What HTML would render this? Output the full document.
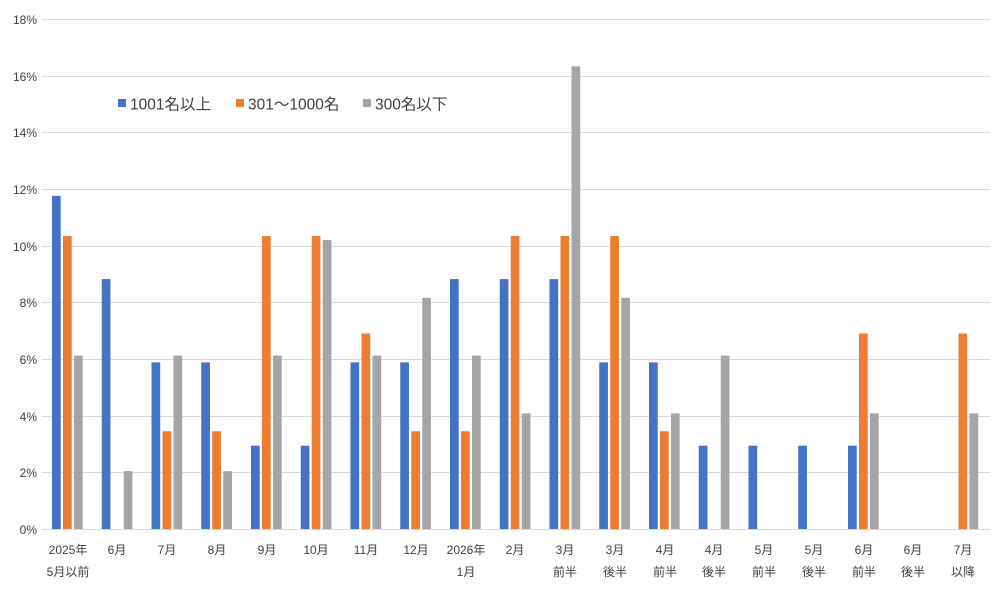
<!DOCTYPE html>
<html><head><meta charset="utf-8"><style>
html,body{margin:0;padding:0;background:#fff;}
svg{display:block;font-family:"Liberation Sans","Noto Sans CJK JP",sans-serif;}
</style></head><body>
<svg id="c" width="1000" height="611" viewBox="0 0 1000 611">
<g stroke="#d9d9d9" stroke-width="1">
<line x1="42" x2="990" y1="19.5" y2="19.5"/><line x1="42" x2="990" y1="76.5" y2="76.5"/>
<line x1="42" x2="990" y1="132.5" y2="132.5"/><line x1="42" x2="990" y1="189.5" y2="189.5"/>
<line x1="42" x2="990" y1="246.5" y2="246.5"/><line x1="42" x2="990" y1="302.5" y2="302.5"/>
<line x1="42" x2="990" y1="359.5" y2="359.5"/><line x1="42" x2="990" y1="416.5" y2="416.5"/>
<line x1="42" x2="990" y1="472.5" y2="472.5"/><line x1="42" x2="990" y1="529.5" y2="529.5"/>
</g>
<g font-size="12" fill="#404040" text-anchor="end">
<text x="37" y="24">18%</text><text x="37" y="81">16%</text><text x="37" y="137">14%</text>
<text x="37" y="194">12%</text><text x="37" y="251">10%</text><text x="37" y="307">8%</text>
<text x="37" y="364">6%</text><text x="37" y="421">4%</text><text x="37" y="477">2%</text>
<text x="37" y="534">0%</text>
</g>
<g id="bars"></g>
<g font-size="12" fill="#404040" text-anchor="middle">
<text x="68" y="554">2025年</text><text x="68" y="576">5月以前</text>
<text x="117" y="554">6月</text>
<text x="167" y="554">7月</text>
<text x="217" y="554">8月</text>
<text x="267" y="554">9月</text>
<text x="316" y="554">10月</text>
<text x="366" y="554">11月</text>
<text x="416" y="554">12月</text>
<text x="466" y="554">2026年</text><text x="466" y="576">1月</text>
<text x="515" y="554">2月</text>
<text x="565" y="554">3月</text><text x="565" y="576">前半</text>
<text x="615" y="554">3月</text><text x="615" y="576">後半</text>
<text x="665" y="554">4月</text><text x="665" y="576">前半</text>
<text x="714" y="554">4月</text><text x="714" y="576">後半</text>
<text x="764" y="554">5月</text><text x="764" y="576">前半</text>
<text x="814" y="554">5月</text><text x="814" y="576">後半</text>
<text x="864" y="554">6月</text><text x="864" y="576">前半</text>
<text x="913" y="554">6月</text><text x="913" y="576">後半</text>
<text x="963" y="554">7月</text><text x="963" y="576">以降</text>
</g>
<g font-size="15.5" fill="#404040">
<rect x="118" y="99" width="8" height="8" fill="#4472C4"/><text x="130" y="109.5">1001名以上</text>
<rect x="236" y="99" width="8" height="8" fill="#ED7D31"/><text x="248" y="109.5">301～1000名</text>
<rect x="363" y="99" width="8" height="8" fill="#A5A5A5"/><text x="375" y="109.5">300名以下</text>
</g>
</svg>
<script>
var d=[[11.76,10.34,6.12],[8.82,0,2.04],[5.88,3.45,6.12],[5.88,3.45,2.04],[2.94,10.34,6.12],[2.94,10.34,10.2],[5.88,6.9,6.12],[5.88,3.45,8.16],[8.82,3.45,6.12],[8.82,10.34,4.08],[8.82,10.34,16.33],[5.88,10.34,8.16],[5.88,3.45,4.08],[2.94,0,6.12],[2.94,0,0],[2.94,0,0],[2.94,6.9,4.08],[0,0,0],[0,6.9,4.08]];
var col=["#4472C4","#ED7D31","#A5A5A5"],g=document.getElementById("bars"),s="";
for(var i=0;i<d.length;i++){var c=67.5+i*49.75;for(var j=0;j<3;j++){var v=d[i][j];if(!v)continue;var h=v*28.333;
s+='<rect x="'+(c-15.5+j*11)+'" y="'+(529-h)+'" width="8.7" height="'+h+'" fill="'+col[j]+'"/>';}}
g.innerHTML=s;
</script>
</body></html>
